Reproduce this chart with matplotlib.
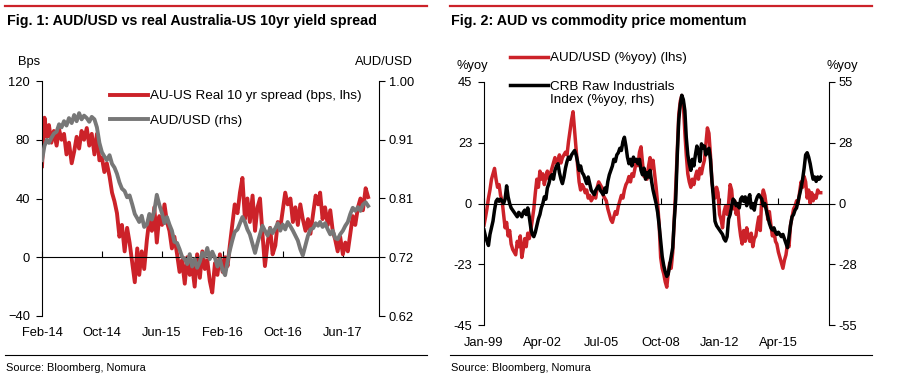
import numpy as np
import pandas as pd
import matplotlib
matplotlib.use("Agg")
import matplotlib.pyplot as plt
import matplotlib.dates as mdates
from matplotlib.lines import Line2D
from matplotlib.legend_handler import HandlerLine2D

plt.rcParams['font.family'] = ['Liberation Sans', 'DejaVu Sans']

# ---------------- data ----------------
# Fig 1: roughly 3 observations per month, Feb-2014 .. Sep-2017
spread_bps = [
    62, 95, 82,  90, 78, 86,  76, 87, 80,  84, 70, 78,  64, 72, 82,  74, 86, 80,
    88, 76, 84,  70, 84, 66,  68, 58, 64,  55, 44, 38,  30, 14, 22,  4, 20, 10,
    -4, -17, 6,  -12, 4, -8,  12, 26, 18,  34, 10, 28,  22, 36, 24,  18, 6, 14,
    2, -10, -2,  -18, 0, -12,  -6, -20, 2,  -14, 4, -8,  -2, -16, -24,  -4, -12, 2,
    -10, 0, -6,  8, 22, 36,  30, 44, 54,  26, 40, 24,  42, 18, 34,  40, 16, -6,
    10, 20, 2,  8, 24, 20,  32, 44, 36,  40, 24, 34,  22, 36, 26,  18, 26, 16,
    30, 42, 36,  44, 26, 34,  22, 32, 18,  12, 4, 14,  2, 10, 4,  16, 28, 22,
    34, 40, 32,  47, 41,
]
audusd = [
    0.872, 0.895, 0.905,  0.900, 0.908, 0.915,  0.918, 0.930, 0.925,  0.935, 0.928, 0.940,
    0.932, 0.945, 0.935,  0.948, 0.938, 0.944,  0.940, 0.934, 0.942,  0.938, 0.925, 0.900,
    0.885, 0.878, 0.872,  0.880, 0.866, 0.860,  0.850, 0.836, 0.826,  0.822, 0.812, 0.815,
    0.800, 0.785, 0.778,  0.772, 0.782, 0.764,  0.768, 0.785, 0.776,  0.790, 0.816, 0.800,
    0.786, 0.770, 0.780,  0.768, 0.758, 0.740,  0.738, 0.728, 0.716,  0.712, 0.704, 0.720,
    0.700, 0.712, 0.698,  0.708, 0.722, 0.716,  0.730, 0.712, 0.724,  0.714, 0.700, 0.712,
    0.694, 0.686, 0.708,  0.726, 0.742, 0.756,  0.760, 0.770, 0.780,  0.772, 0.760, 0.752,
    0.736, 0.722, 0.738,  0.752, 0.766, 0.758,  0.750, 0.762, 0.754,  0.762, 0.770, 0.758,
    0.768, 0.760, 0.772,  0.765, 0.758, 0.750,  0.742, 0.728, 0.718,  0.735, 0.750, 0.760,
    0.762, 0.770, 0.766,  0.772, 0.764, 0.770,  0.760, 0.752, 0.758,  0.746, 0.744, 0.752,
    0.758, 0.766, 0.772,  0.785, 0.795, 0.790,  0.796, 0.790, 0.800,  0.804, 0.798,
]
fig1_ticks = ['2014-02-01', '2014-10-01', '2015-06-01', '2016-02-01', '2016-10-01', '2017-06-01']

# Fig 2: monthly, Jan-1999 .. Aug-2017
aud_yoy = [
    -8, -5, -2, 2, 5, 9, 11, 13, 9, 6, 7, 3, 1, -4, -9, -7, -12, -10, -15, -17,
    -18, -19, -14, -16, -12, -20, -17, -13, -16, -11, -13, -10, -6, -2, 4, 9, 6, 12, 9, 11,
    7, 10, 12, 9, 11, 13, 15, 17, 15, 16, 18, 15, 17, 18, 19, 18, 23, 27, 31, 34,
    27, 20, 14, 8, 5, 7, 6, 4, 5, 2, 3, 1, 2, 3, 2, 6, 8, 7, 6, 3,
    2, 1, -2, -4, -6, -7, -5, -3, -4, -1, 1, 3, 2, 5, 7, 8, 10, 8, 11, 10,
    13, 16, 14, 19, 21, 15, 10, 12, 9, 14, 17, 13, 16, 11, 6, 0, -8, -20, -24, -26,
    -29, -31, -26, -22, -24, -18, -6, 6, 20, 33, 38, 40, 37, 26, 18, 11, 8, 6, 9, 7,
    10, 12, 9, 13, 11, 14, 16, 22, 28, 26, 18, 8, 4, 2, 6, 4, -4, -6, -9, -3,
    -1, -4, 0, 7, 5, -2, 1, -4, -1, -8, -12, -15, -10, -14, -9, -12, -14, -11, -16, -13,
    -12, -8, -5, -10, 2, 5, 3, -1, -6, -3, -8, -12, -10, -14, -15, -18, -20, -22, -24, -21,
    -19, -15, -16, -8, -5, -2, -1, 1, 0, 4, 8, 6, 10, 8, 2, 5, 0, 4, 1, 3,
    2, 5, 4, 4,
]
crb_yoy = [
    -12, -15, -17, -19, -14, -11, -8, -3, 1, 2, 1, 2, 1, 0, 2, 8, 3, 0, -2, -3,
    -4, -5, -6, -4, -5, -6, -4, -3, -5, -2, -6, -11, -14, -15, -13, -10, -7, -5, -2, 0,
    3, 2, 7, 9, 12, 13, 11, 15, 17, 18, 14, 11, 9, 12, 16, 19, 21, 20, 22, 23,
    24, 22, 19, 15, 17, 14, 13, 11, 9, 12, 9, 6, 5, 4, 6, 7, 8, 6, 5, 4,
    7, 5, 10, 13, 15, 17, 20, 19, 22, 23, 25, 24, 28, 30, 26, 21, 18, 20, 17, 21,
    19, 20, 18, 20, 15, 13, 16, 11, 14, 12, 15, 10, 6, 3, 0, -4, -10, -17, -24, -28,
    -31, -33, -32, -28, -24, -20, -8, 2, 22, 38, 45, 49, 47, 42, 30, 22, 18, 15, 20, 17,
    22, 26, 24, 19, 27, 25, 26, 22, 24, 25, 20, 10, 2, -8, -10, -11, -12, -13, -14, -16,
    -17, -15, -7, -5, -1, 2, 1, -1, 0, -2, 2, 3, 1, 3, -1, 2, 4, -2, 0, -3,
    1, 3, 4, 3, 2, -1, 0, -3, -6, -9, -11, -12, -11, -13, -14, -13, -14, -15, -14, -16,
    -18, -20, -15, -10, -6, -5, -3, -2, 1, 4, 7, 11, 16, 22, 23, 21, 18, 14, 11, 12,
    10, 12, 11, 12,
]
fig2_ticks = ['1999-01-01', '2002-04-01', '2005-07-01', '2008-10-01', '2012-01-01', '2015-04-01']

# ---------------- styling ----------------
RED = '#cc2229'
GRAY = '#777777'
W, H = 901, 385
FS_TICK = 9.3
FS_LEG = 9.7

fig = plt.figure(figsize=(W / 100, H / 100), dpi=100)

def fx(px):
    return px / W

def fy(py):
    return 1 - py / H

# decorations
for x0, x1 in [(5, 427), (450, 872)]:
    fig.add_artist(Line2D([fx(x0), fx(x1)], [fy(6), fy(6)], color=RED, lw=1.6,
                          transform=fig.transFigure))
    fig.add_artist(Line2D([fx(x0), fx(x1)], [fy(355), fy(355)], color='black', lw=0.8,
                          transform=fig.transFigure))
fig.text(fx(7), fy(21), 'Fig. 1: AUD/USD vs real Australia-US 10yr yield spread',
         fontsize=10.3, fontweight='bold', va='center', ha='left')
fig.text(fx(451), fy(21), 'Fig. 2: AUD vs commodity price momentum',
         fontsize=10.3, fontweight='bold', va='center', ha='left')
fig.text(fx(6), fy(368), 'Source: Bloomberg, Nomura', fontsize=7.9, va='center', ha='left')
fig.text(fx(451), fy(368), 'Source: Bloomberg, Nomura', fontsize=7.9, va='center', ha='left')


class UpperHandler(HandlerLine2D):
    def create_artists(self, legend, orig_handle, xdescent, ydescent, width, height,
                       fontsize, trans):
        arts = super().create_artists(legend, orig_handle, xdescent, ydescent, width,
                                      height, fontsize, trans)
        for a in arts:
            if isinstance(a, Line2D):
                a.set_ydata(np.asarray(a.get_ydata()) + 0.6 * fontsize)
        return arts


def style_twin(ax, axr, xticks, pad_x):
    for s in ['top', 'right']:
        ax.spines[s].set_visible(False)
    for s in ['top', 'left', 'bottom']:
        axr.spines[s].set_visible(False)
    ax.spines['bottom'].set_position(('data', 0))
    for sp in list(ax.spines.values()) + list(axr.spines.values()):
        sp.set_linewidth(0.8)
    ax.set_xticks([pd.Timestamp(t) for t in xticks])
    ax.xaxis.set_major_formatter(mdates.DateFormatter('%b-%y'))
    ax.tick_params(axis='x', direction='in', length=4, width=0.8, pad=pad_x,
                   labelsize=FS_TICK)
    ax.tick_params(axis='y', direction='out', length=4, width=0.8, pad=4.5,
                   labelsize=FS_TICK)
    axr.tick_params(axis='y', direction='out', length=4, width=0.8, pad=3,
                    labelsize=FS_TICK)


# ---------------- Fig 1 ----------------
months1 = pd.date_range('2014-02-01', periods=44, freq='MS')
dates1 = [m + pd.Timedelta(days=d) for m in months1 for d in (0, 10, 20)][:len(spread_bps)]

ax1 = fig.add_axes([fx(42), fy(316), fx(379) - fx(42), fy(81) - fy(316)])
ax1b = ax1.twinx()
l1, = ax1.plot(dates1, spread_bps, color=RED, lw=2.8,
               label='AU-US Real 10 yr spread (bps, lhs)')
l2, = ax1b.plot(dates1, audusd, color=GRAY, lw=2.8, label='AUD/USD (rhs)')
ax1.set_ylim(-40, 120)
ax1.set_yticks([-40, 0, 40, 80, 120])
ax1b.set_ylim(0.62, 1.00)
ax1b.set_yticks([0.62, 0.715, 0.81, 0.905, 1.00])
ax1b.set_yticklabels(['0.62', '0.72', '0.81', '0.91', '1.00'])
ax1.set_xlim(pd.Timestamp('2014-02-01'), pd.Timestamp('2017-10-25'))
style_twin(ax1, ax1b, fig1_ticks, 50)
ax1.text(-0.07, 1.08, 'Bps', transform=ax1.transAxes, fontsize=FS_TICK,
         ha='left', va='center')
ax1b.text(1.10, 1.08, 'AUD/USD', transform=ax1b.transAxes, fontsize=FS_TICK,
          ha='right', va='center')
ax1b.legend([l1, l2], [l1.get_label(), l2.get_label()], frameon=False,
            loc='upper left', bbox_to_anchor=(fx(110), fy(90)),
            bbox_transform=fig.transFigure, fontsize=FS_LEG, borderpad=0,
            borderaxespad=0, handlelength=2.8, handletextpad=0.15,
            labelspacing=0.9)

# ---------------- Fig 2 ----------------
dates2 = pd.date_range('1999-01-01', periods=len(aud_yoy), freq='MS')
ax2 = fig.add_axes([fx(484), fy(325), fx(829) - fx(484), fy(82) - fy(325)])
ax2b = ax2.twinx()
r1, = ax2.plot(dates2, aud_yoy, color=RED, lw=2.5, label='AUD/USD (%yoy) (lhs)')
r2, = ax2b.plot(dates2, crb_yoy, color='black', lw=2.5,
                label='CRB Raw Industrials\nIndex (%yoy, rhs)')
ax2.set_ylim(-45, 45)
ax2.set_yticks([-45, -22.5, 0, 22.5, 45])
ax2.set_yticklabels(['-45', '-23', '0', '23', '45'])
ax2b.set_ylim(-55, 55)
ax2b.set_yticks([-55, -27.5, 0, 27.5, 55])
ax2b.set_yticklabels(['-55', '-28', '0', '28', '55'])
ax2.set_xlim(pd.Timestamp('1999-01-01'), pd.Timestamp('2018-01-15'))
style_twin(ax2, ax2b, fig2_ticks, 96)
ax2.text(-0.08, 1.065, '%yoy', transform=ax2.transAxes, fontsize=FS_TICK,
         ha='left', va='center')
ax2b.text(1.083, 1.065, '%yoy', transform=ax2b.transAxes, fontsize=FS_TICK,
          ha='right', va='center')
ax2b.legend([r1, r2], [r1.get_label(), r2.get_label()], frameon=False,
            loc='upper left', bbox_to_anchor=(fx(510), fy(52)),
            bbox_transform=fig.transFigure, fontsize=FS_LEG, borderpad=0,
            borderaxespad=0, handlelength=2.8, handletextpad=0.15,
            labelspacing=1.2, handler_map={r2: UpperHandler()})

fig.savefig('out.png', dpi=100)
